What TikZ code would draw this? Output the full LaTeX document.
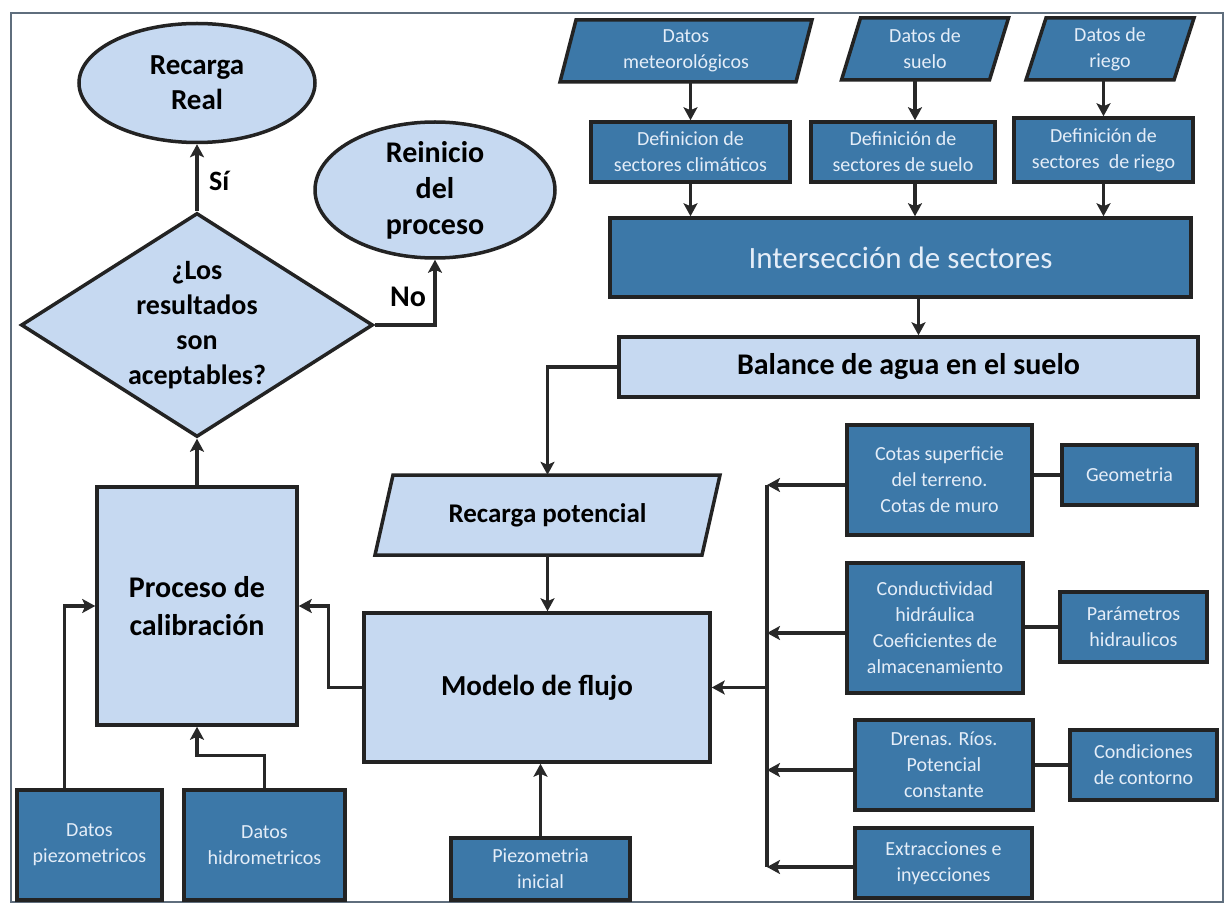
\documentclass[tikz,border=0pt]{standalone}
\usepackage{fontspec}
\setmainfont{Carlito}
\usetikzlibrary{shapes.geometric,arrows.meta,calc}
\definecolor{dkfill}{RGB}{60,120,168}
\definecolor{ltfill}{RGB}{198,217,241}
\definecolor{edgec}{RGB}{35,35,35}
\definecolor{connc}{RGB}{40,40,40}
\definecolor{ltext}{RGB}{228,237,248}
\definecolor{framec}{RGB}{95,110,125}
\newcommand\paraPath[6]{\path[#1] ({#2-#4+#6},{#3-#5}) -- ({#2+#4+#6},{#3-#5}) -- ({#2+#4-#6},{#3+#5}) -- ({#2-#4-#6},{#3+#5}) -- cycle;}
\begin{document}
\begin{tikzpicture}[x=1pt,y=-1pt,
  box/.style={draw=edgec,line width=3.5pt,rectangle,inner sep=0pt,align=center},
  dkbox/.style={box,fill=dkfill,text=ltext,font=\fontsize{20}{26}\selectfont},
  ltbox/.style={box,fill=ltfill,text=black,font=\bfseries\fontsize{30}{38}\selectfont},
  dkpara/.style={draw=edgec,line width=3.5pt,fill=dkfill,line join=miter},
  ltpara/.style={draw=edgec,line width=3.5pt,fill=ltfill,line join=miter},
  dktext/.style={rectangle,inner sep=0pt,align=center,text=ltext,font=\fontsize{20}{26}\selectfont},
  bigtext/.style={align=center,text=black,inner sep=0pt},
  ell/.style={ellipse,draw=edgec,line width=3.5pt,fill=ltfill,inner sep=0pt},
  dia/.style={diamond,draw=edgec,line width=3.5pt,fill=ltfill,inner sep=0pt,line join=miter},
  arr/.style={draw=connc,line width=3.5pt,-{Stealth[length=13pt,width=14pt,inset=3pt]}},
  ln/.style={draw=connc,line width=3.5pt},
  lbl/.style={text=black,font=\bfseries\fontsize{28}{34}\selectfont,inner sep=0pt}
]
\useasboundingbox (0,0) rectangle (1227,904);
\fill[white] (0,0) rectangle (1227,904);
\draw[framec,line width=2.5pt] (11,13) rectangle (1223,902);

% ---- left column
\node[ell,minimum width=236,minimum height=119,
  label={[bigtext,font=\bfseries\fontsize{29}{35}\selectfont]center:{Recarga\\Real}}] (rr) at (197,83) {};
\node[ell,minimum width=240,minimum height=136,
  label={[bigtext,font=\bfseries\fontsize{30}{36}\selectfont]center:{Reinicio\\del\\proceso}}] (ri) at (435,190) {};
\node[dia,minimum width=352,minimum height=224,
  label={[bigtext,font=\bfseries\fontsize{28}{35}\selectfont]center:{¿Los\\resultados\\son\\aceptables?}}] (dec) at (197,325) {};
\node[ltbox,minimum width=200,minimum height=238] (pc) at (197,606) {Proceso de\\calibración};
\node[dkbox,minimum width=145,minimum height=110] (dp) at (89.5,845) {Datos\\piezometricos};
\node[dkbox,minimum width=161,minimum height=110] (dh) at (264.5,845) {Datos\\hidrometricos};

% ---- centre
\paraPath{ltpara}{547.5}{515}{163.5}{40}{9}
\node[bigtext,minimum width=327,minimum height=80,font=\bfseries\fontsize{27}{32}\selectfont] (rp) at (547.5,515) {Recarga potencial};
\node[ltbox,minimum width=346,minimum height=149,font=\bfseries\fontsize{29}{35}\selectfont] (mf) at (537,687.5) {Modelo de flujo};
\node[dkbox,minimum width=179,minimum height=62] (pi) at (540.5,869) {Piezometria\\inicial};

% ---- top right
\paraPath{dkpara}{686}{51}{118}{31}{8}
\node[dktext,minimum width=236,minimum height=62] (dm) at (686,51) {Datos\\meteorológicos};
\paraPath{dkpara}{925}{49}{74}{31}{9.5}
\node[dktext,minimum width=148,minimum height=62] (dsu) at (925,49) {Datos de\\suelo};
\paraPath{dkpara}{1110}{49}{74}{31}{10}
\node[dktext,minimum width=148,minimum height=62] (dri) at (1110,49) {Datos de\\riego};

\node[dkbox,minimum width=199,minimum height=60] (dc) at (690.5,152) {Definicion de\\sectores climáticos};
\node[dkbox,minimum width=184,minimum height=60] (ds) at (903,152) {Definición de\\sectores de suelo};
\node[dkbox,minimum width=179,minimum height=64] (dr) at (1103.5,150) {Definición de\\sectores\ \ de riego};
\node[dkbox,minimum width=581,minimum height=79,font=\fontsize{31}{36}\selectfont] (is) at (900.5,257.5) {Intersección de sectores};
\node[ltbox,minimum width=579,minimum height=60] (bal) at (908.5,367) {Balance de agua en el suelo};

% ---- bottom right
\node[dkbox,minimum width=185,minimum height=110] (ct) at (939.5,480) {Cotas superficie\\del terreno.\\Cotas de muro};
\node[dkbox,minimum width=135,minimum height=60] (ge) at (1129.5,475) {Geometria};
\node[dkbox,minimum width=176,minimum height=130] (cd) at (935,628) {Conductividad\\hidráulica\\Coeficientes de\\almacenamiento};
\node[dkbox,minimum width=147,minimum height=70] (pa) at (1133.5,627) {Parámetros\\hidraulicos};
\node[dkbox,minimum width=178,minimum height=90] (dn) at (944,765) {Drenas. Ríos.\\Potencial\\constante};
\node[dkbox,minimum width=147,minimum height=70] (co) at (1143.5,765) {Condiciones\\de contorno};
\node[dkbox,minimum width=177,minimum height=70] (ex) at (943.5,863) {Extracciones e\\inyecciones};

% ---- connectors: top right
\coordinate (dsx) at ([xshift=12pt]ds.north);
\coordinate (isx) at ([xshift=18pt]is.south);
\draw[arr] (dm.south -| dc.north) -- (dc.north);
\draw[arr] (dsx |- dsu.south) -- (dsx);
\draw[arr] (dri.south -| dr.north) -- (dr.north);
\draw[arr] (dc.south) -- (dc.south |- is.north);
\draw[arr] (dsx |- ds.south) -- (dsx |- is.north);
\draw[arr] (dr.south) -- (dr.south |- is.north);
\draw[arr] (isx) -- (isx |- bal.north);
\draw[arr] (bal.west) -| (rp.north);

% ---- centre
\draw[arr] (rp.south) -- (rp.south |- mf.north);
\draw[arr] (pi.north) -- (pi.north |- mf.south);
\draw[arr] (mf.west) -- ++(-34,0) |- (pc.east);

% ---- left
\coordinate (dpx) at ([xshift=-25pt]dp.north);
\draw[arr] (dpx) |- (pc.west);
\draw[arr] (dh.north) -- ++(0,-33) -| (pc.south);
\draw[arr] (pc.north) -- (dec.south);
\draw[arr] (dec.north) -- (rr.south);
\draw[arr] (dec.east) -| (ri.south);
\node[lbl,anchor=west] (lsi) at (209,181) {Sí};
\node[lbl,font=\bfseries\fontsize{30}{36}\selectfont] (lno) at (408,297) {No};

% ---- right bus
\coordinate (ctw) at ([yshift=-5pt]ct.west);
\coordinate (cdw) at ([yshift=-5pt]cd.west);
\coordinate (dnw) at ([yshift=-5pt]dn.west);
\coordinate (exw) at ([yshift=-4pt]ex.west);
\coordinate (busT) at (767,485);
\draw[ln] (ctw -| busT) -- (exw -| busT);
\draw[arr] (ctw) -- (ctw -| busT);
\draw[arr] (cdw) -- (cdw -| busT);
\draw[arr] (dnw) -- (dnw -| busT);
\draw[arr] (exw) -- (exw -| busT);
\draw[arr] (mf.east -| busT) -- (mf.east);
\draw[ln] (ge.west -| ct.east) -- (ge.west);
\draw[ln] (pa.west -| cd.east) -- (pa.west);
\draw[ln] (co.west -| dn.east) -- (co.west);
\end{tikzpicture}
\end{document}
